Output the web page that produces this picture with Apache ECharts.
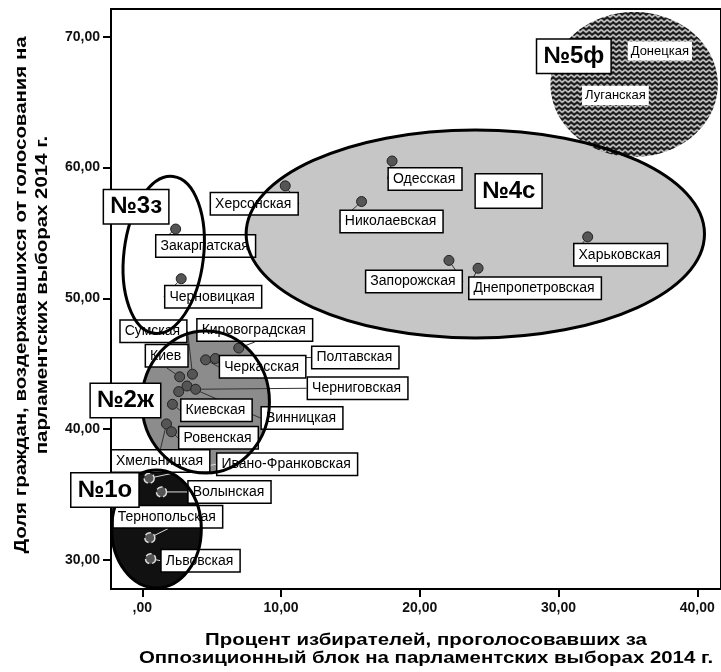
<!DOCTYPE html>
<html>
<head>
<meta charset="utf-8">
<script src="https://cdn.jsdelivr.net/npm/echarts@6/dist/echarts.min.js"></script>
<style>
  html, body { margin: 0; padding: 0; background: #fff; }
  #chart { width: 721px; height: 672px; }
</style>
</head>
<body>
<div id="chart"></div>
<script>
  // области: % за Оппозиционный блок (x) и % неучастия (y), номер кластера
  var regions = ['Херсонская', 'Одесская', 'Николаевская', 'Харьковская', 'Запорожская', 'Днепропетровская',
    'Донецкая', 'Луганская',
    'Закарпатская', 'Черновицкая',
    'Кировоградская', 'Черкасская', 'Полтавская', 'Киев', 'Сумская', 'Винницкая', 'Черниговская', '',
    'Киевская', 'Хмельницкая', 'Ровенская',
    'Ивано-Франковская', 'Волынская', 'Тернопольская', 'Львовская']
  var oppBloc = [10.3, 18.0, 15.8, 32.1, 22.1, 24.2,
    37.3, 34.1,
    2.4, 2.8,
    6.95, 4.56, 5.26, 2.69, 3.61, 3.22, 3.84, 2.62,
    2.17, 1.74, 2.1,
    0.49, 1.38, 0.54, 0.59]
  var abstain = [58.6, 60.5, 57.4, 54.7, 52.9, 52.3,
    68.9, 65.5,
    55.3, 51.5,
    46.2, 45.3, 45.4, 44.0, 44.2, 43.3, 43.05, 42.87,
    41.9, 40.4, 39.8,
    36.25, 35.2, 31.7, 30.1]
  var cluster = [4, 4, 4, 4, 4, 4,
    5, 5,
    3, 3,
    2, 2, 2, 2, 2, 2, 2, 2,
    2, 2, 2,
    1, 1, 1, 1]
  var xTicks = [0, 10, 20, 30, 40]
  var yTicks = [30, 40, 50, 60, 70]

  var FONT = '"Liberation Sans", Arial, sans-serif'

  // сдвиг подписи от точки, px
  var labelShift = {
    'Херсонская': [-31, 18], 'Одесская': [33, 18], 'Николаевская': [30, 20], 'Харьковская': [33, 18],
    'Запорожская': [-35, 21], 'Днепропетровская': [57, 20],
    'Закарпатская': [30, 17], 'Черновицкая': [32, 18],
    'Кировоградская': [16, -18], 'Черкасская': [57, 7], 'Полтавская': [140, -1], 'Киев': [-13, -21],
    'Сумская': [-39, -43], 'Винницкая': [115, 32], 'Черниговская': [162, -1], 'Киевская': [44, 6],
    'Хмельницкая': [-6, 37], 'Ровенская': [47, 6],
    'Ивано-Франковская': [138, -14], 'Волынская': [68, 0], 'Тернопольская': [18, -21], 'Львовская': [50, 2]
  }

  function tickText(v) {
    var s = v.toFixed(2).replace('.', ',')
    return s.indexOf('0,') === 0 ? s.slice(1) : s
  }

  function clusterData(c) {
    var pts = []
    regions.forEach(function (name, i) {
      if (cluster[i] !== c) return
      var item = { name: name, value: [oppBloc[i], abstain[i]] }
      if (!name) item.label = { show: false }
      pts.push(item)
    })
    return pts
  }

  var labelBase = {
    show: true, formatter: '{b}', position: 'inside',
    fontFamily: FONT, fontSize: 14, color: '#000', lineHeight: 16,
    backgroundColor: '#fff', borderColor: '#000', borderWidth: 1.5, padding: [3, 6, 2, 4]
  }

  function makeSeries(c) {
    var s = {
      type: 'scatter', z: 2, data: clusterData(c), symbolSize: 10,
      itemStyle: { color: '#555', borderColor: '#222', borderWidth: 1, opacity: 1 },
      label: labelBase,
      labelLine: { show: true, lineStyle: { color: '#333', width: 1 } },
      labelLayout: function (p) {
        var d = labelShift[p.text] || [0, 0]
        return { dx: d[0], dy: d[1] }
      }
    }
    if (c === 1) {
      s.itemStyle = { color: '#555', borderColor: '#ddd', borderWidth: 1.5, borderType: 'dashed', opacity: 1 }
      s.labelLine = { show: true, lineStyle: { color: '#ddd', width: 1 } }
    }
    if (c === 5) {
      s.itemStyle = { color: 'rgba(0,0,0,0)', borderWidth: 0, opacity: 1 }
      s.label = Object.assign({}, labelBase, { borderWidth: 0, fontSize: 13, padding: [2, 3, 1, 3] })
      s.labelLine = { show: false }
    }
    return s
  }

  var chart = echarts.init(document.getElementById('chart'))
  chart.setOption({
    animation: false,
    grid: { left: 111, top: 9, width: 612, height: 580, show: true, borderColor: '#000', borderWidth: 2, backgroundColor: '#fff' },
    xAxis: {
      type: 'value', min: -2.26, max: 41.71, z: 6,
      splitLine: { show: false },
      axisLine: { show: true, onZero: false, lineStyle: { color: '#000', width: 2 } },
      axisTick: { show: true, length: 8, customValues: xTicks, lineStyle: { color: '#000', width: 2 } },
      axisLabel: { customValues: xTicks, formatter: tickText, fontFamily: FONT, fontWeight: 'bold', fontSize: 14, color: '#111', margin: 12 }
    },
    yAxis: {
      type: 'value', min: 27.78, max: 72.12, z: 6,
      splitLine: { show: false },
      axisLine: { show: true, onZero: false, lineStyle: { color: '#000', width: 2 } },
      axisTick: { show: true, length: 8, customValues: yTicks, lineStyle: { color: '#000', width: 2 } },
      axisLabel: { customValues: yTicks, formatter: tickText, fontFamily: FONT, fontWeight: 'bold', fontSize: 14, color: '#111', margin: 11 }
    },
    series: [makeSeries(4), makeSeries(5), makeSeries(3), makeSeries(2), makeSeries(1)]
  })

  // ---- кластеры (эллипсы) и подписи групп, в единицах осей ----
  function herringbone() {
    var c = document.createElement('canvas')
    c.width = 6; c.height = 5
    var g = c.getContext('2d')
    g.fillStyle = '#111'; g.fillRect(0, 0, 6, 5)
    g.strokeStyle = '#fff'; g.lineWidth = 1.3
    g.beginPath()
    for (var y = -5; y <= 10; y += 5) {
      g.moveTo(0, y + 3); g.lineTo(3, y)
      g.moveTo(3, y); g.lineTo(6, y + 3)
    }
    g.stroke()
    return c
  }
  var zones = [
    { cx: 24.0, cy: 54.92, rx: 16.52, ry: 7.95, fill: '#c6c6c6', stroke: true, rot: 0, z2: 0 },
    { cx: 35.45, cy: 66.35, rx: 6.03, ry: 5.54, fill: { image: herringbone(), repeat: 'repeat' }, stroke: false, rot: 0, z2: 1 },
    { cx: 1.54, cy: 53.32, rx: 2.87, ry: 6.04, fill: null, stroke: true, rot: -0.12, z2: 0 },
    { cx: 4.56, cy: 42.08, rx: 4.6, ry: 5.43, fill: '#8c8c8c', stroke: true, rot: 0, z2: 0 },
    { cx: 1.02, cy: 32.37, rx: 3.23, ry: 4.51, fill: '#111', stroke: true, rot: 0, z2: 0 }
  ]
  var groupTags = [
    { text: '№5ф', at: [31.1, 68.5] },
    { text: '№4с', at: [26.4, 58.2] },
    { text: '№3з', at: [-0.45, 57.0] },
    { text: '№2ж', at: [-1.22, 42.2] },
    { text: '№1о', at: [-2.7, 35.35] }
  ]

  function px(p) { return chart.convertToPixel({ gridIndex: 0 }, p) }

  var graphics = []
  zones.forEach(function (zn) {
    var c = px([zn.cx, zn.cy])
    var rx = px([zn.cx + zn.rx, zn.cy])[0] - c[0]
    var ry = c[1] - px([zn.cx, zn.cy + zn.ry])[1]
    if (zn.fill) {
      graphics.push({ type: 'ellipse', x: c[0], y: c[1], rotation: zn.rot, z: 1, z2: zn.z2, silent: true,
        shape: { cx: 0, cy: 0, rx: rx, ry: ry }, style: { fill: zn.fill, stroke: null } })
    }
    if (zn.stroke) {
      graphics.push({ type: 'ellipse', x: c[0], y: c[1], rotation: zn.rot, z: 5, silent: true,
        shape: { cx: 0, cy: 0, rx: rx, ry: ry }, style: { fill: null, stroke: '#000', lineWidth: 3 } })
    }
  })
  groupTags.forEach(function (t) {
    var c = px(t.at)
    graphics.push({ type: 'text', x: c[0], y: c[1], z: 7, silent: true,
      style: { text: t.text, font: 'bold 24px ' + FONT, fill: '#000', align: 'center', verticalAlign: 'middle',
        textAlign: 'center', textVerticalAlign: 'middle',
        backgroundColor: '#fff', borderColor: '#000', borderWidth: 1.5, padding: [5, 6, 4, 6] } })
  })
  // подписи осей (в оригинале шрифт растянут по горизонтали)
  graphics.push({ type: 'text', x: 426, y: 649, scaleX: 1.2, z: 7, silent: true,
    style: { text: 'Процент избирателей, проголосовавших за\nОппозиционный блок на парламентских выборах 2014 г.',
      font: 'bold 17px ' + FONT, fill: '#000', align: 'center', verticalAlign: 'middle',
      textAlign: 'center', textVerticalAlign: 'middle', lineHeight: 18 } })
  graphics.push({ type: 'text', x: 32, y: 295, rotation: Math.PI / 2, scaleX: 1.2, z: 7, silent: true,
    style: { text: 'Доля граждан, воздержавшихся от голосования на\nпарламентских выборах 2014 г.',
      font: 'bold 17px ' + FONT, fill: '#000', align: 'center', verticalAlign: 'middle',
      textAlign: 'center', textVerticalAlign: 'middle', lineHeight: 21 } })

  chart.setOption({ graphic: { elements: graphics } })
</script>
</body>
</html>
